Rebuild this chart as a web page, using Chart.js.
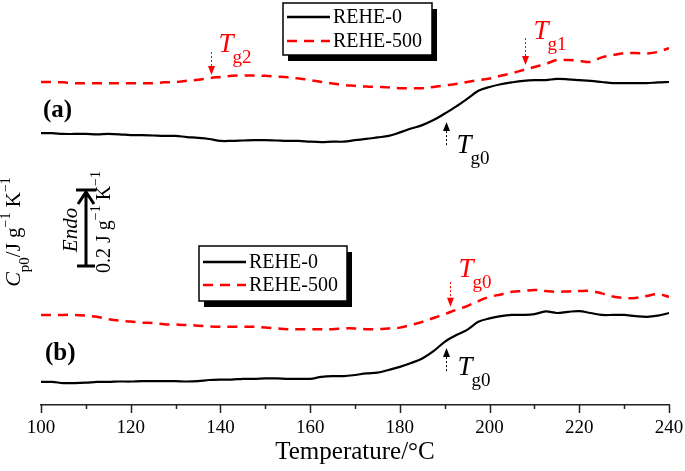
<!DOCTYPE html>
<html>
<head>
<meta charset="utf-8">
<script src="https://cdn.jsdelivr.net/npm/chart.js@4"></script>
<style>
    html, body { margin: 0; padding: 0; background: #fff; }
    #wrap { width: 685px; height: 471px; position: relative; }
</style>
</head>
<body>
<div id="wrap"><canvas id="cpChart"></canvas></div>
<script>
// Temperature grid (°C)
const temps = [100,102.5,105,107.5,110,112.5,115,117.5,120,122.5,125,127.5,130,132.5,135,137.5,140,142.5,145,147.5,
    150,152.5,155,157.5,160,162.5,165,167.5,170,172.5,175,177.5,180,182.5,185,187.5,190,192.5,195,197.5,
    200,202.5,205,207.5,210,212.5,215,217.5,220,222.5,225,227.5,230,232.5,235,237.5,240];

// Cp0 curves, J g-1 K-1 (offset)
const rehe0A = [0.706,0.706,0.704,0.704,0.704,0.703,0.704,0.703,0.701,0.701,0.700,0.699,0.699,0.696,0.694,0.691,0.686,0.686,0.687,0.688,
    0.688,0.687,0.686,0.686,0.684,0.683,0.684,0.684,0.688,0.691,0.695,0.699,0.708,0.718,0.727,0.740,0.757,0.775,0.795,0.816,
    0.826,0.833,0.838,0.842,0.844,0.844,0.847,0.846,0.844,0.842,0.839,0.836,0.836,0.836,0.836,0.838,0.839];
const rehe500A = [0.839,0.839,0.838,0.836,0.836,0.836,0.836,0.836,0.836,0.836,0.836,0.838,0.839,0.842,0.845,0.849,0.852,0.855,0.856,0.856,
    0.855,0.853,0.851,0.848,0.844,0.839,0.835,0.831,0.829,0.827,0.826,0.825,0.823,0.823,0.823,0.826,0.830,0.834,0.839,0.844,
    0.848,0.855,0.862,0.870,0.878,0.886,0.896,0.896,0.894,0.891,0.903,0.909,0.914,0.914,0.913,0.917,0.927];
const rehe0B = [0.060,0.060,0.057,0.057,0.058,0.060,0.060,0.061,0.061,0.062,0.062,0.062,0.062,0.061,0.062,0.065,0.066,0.066,0.068,0.068,
    0.069,0.069,0.068,0.068,0.068,0.073,0.075,0.075,0.078,0.082,0.084,0.091,0.099,0.109,0.121,0.140,0.164,0.181,0.195,0.216,
    0.225,0.231,0.234,0.234,0.236,0.243,0.239,0.242,0.244,0.239,0.234,0.234,0.234,0.231,0.229,0.232,0.239];
const rehe500B = [0.234,0.234,0.234,0.234,0.232,0.229,0.223,0.219,0.217,0.214,0.213,0.210,0.209,0.208,0.206,0.204,0.203,0.203,0.203,0.203,
    0.201,0.199,0.197,0.197,0.197,0.197,0.197,0.199,0.199,0.197,0.197,0.199,0.201,0.208,0.216,0.226,0.236,0.247,0.257,0.270,
    0.281,0.287,0.294,0.296,0.299,0.296,0.294,0.295,0.296,0.296,0.290,0.282,0.278,0.278,0.283,0.288,0.281];

const xTickLabels = [100,120,140,160,180,200,220,240];
const xMinorTicks = [110,130,150,170,190,210,230];

const seriesNames = ['REHE-0', 'REHE-500'];

const FONT = "'Liberation Serif', 'Times New Roman', serif";
const RED = '#ff0000';
const BLACK = '#000000';

// glass transition markers: temperature, arrow tip / tail (y units)
const markers = [
    { t: 137.8, tip: 0.857, tail: 0.917, color: RED, sub: 'g2', dx: 7, dy: 0 },
    { t: 207.9, tip: 0.883, tail: 0.953, color: RED, sub: 'g1', dx: 8, dy: 1 },
    { t: 190.3, tip: 0.735, tail: 0.675, color: BLACK, sub: 'g0', dx: 10, dy: 8 },
    { t: 191.2, tip: 0.255, tail: 0.319, color: RED, sub: 'g0', dx: 8, dy: -5 },
    { t: 190.3, tip: 0.148, tail: 0.088, color: BLACK, sub: 'g0', dx: 11, dy: 4 }
];

function toPoints(vals) {
    return temps.map((t, i) => ({ x: t, y: vals[i] }));
}

function lineSet(label, vals, color, dashed) {
    return {
        label: label,
        data: toPoints(vals),
        borderColor: color,
        borderWidth: dashed ? 2.5 : 2.2,
        borderDash: dashed ? [10, 7] : [],
        pointRadius: 0,
        tension: 0.35,
        fill: false
    };
}

// draws a run of text pieces, each with its own font and baseline shift
function drawRich(ctx, parts, x, y) {
    let cx = x;
    parts.forEach(p => {
        ctx.font = p.font;
        ctx.fillText(p.text, cx, y + (p.dy || 0));
        cx += ctx.measureText(p.text).width + (p.gap || 0);
    });
    return cx - x;
}

function richWidth(ctx, parts) {
    let w = 0;
    parts.forEach(p => {
        ctx.font = p.font;
        w += ctx.measureText(p.text).width + (p.gap || 0);
    });
    return w;
}

function drawRotated(ctx, parts, cy, baseX) {
    ctx.save();
    ctx.translate(baseX, cy);
    ctx.rotate(-Math.PI / 2);
    ctx.textBaseline = 'alphabetic';
    ctx.textAlign = 'left';
    const w = richWidth(ctx, parts);
    drawRich(ctx, parts, -w / 2, 0);
    ctx.restore();
}

function drawLegend(ctx, box, sets) {
    ctx.save();
    ctx.fillStyle = '#000';
    ctx.fillRect(box.x + 5, box.y + 6, box.w, box.h);
    ctx.fillStyle = '#fff';
    ctx.fillRect(box.x, box.y, box.w, box.h);
    ctx.strokeStyle = '#000';
    ctx.lineWidth = 1.5;
    ctx.strokeRect(box.x, box.y, box.w, box.h);
    sets.forEach((ds, i) => {
        const yy = box.y + box.rows[i];
        ctx.strokeStyle = ds.borderColor;
        ctx.lineWidth = 2.5;
        ctx.setLineDash(ds.borderDash);
        ctx.beginPath();
        ctx.moveTo(box.x + 4, yy);
        ctx.lineTo(box.x + 47, yy);
        ctx.stroke();
        ctx.setLineDash([]);
        ctx.fillStyle = '#000';
        ctx.font = '20px ' + FONT;
        ctx.textBaseline = 'middle';
        ctx.fillText(ds.label, box.x + 50, yy + 1);
    });
    ctx.restore();
}

const decorPlugin = {
    id: 'decor',
    afterDraw(chart) {
        const ctx = chart.ctx;
        const xs = chart.scales.x;
        const ys = chart.scales.y;
        const base = chart.chartArea.bottom;

        // tick marks
        ctx.save();
        ctx.strokeStyle = '#222';
        ctx.lineWidth = 1.5;
        xTickLabels.concat(xMinorTicks).forEach(v => {
            const px = Math.round(xs.getPixelForValue(v)) + 0.5;
            ctx.beginPath();
            ctx.moveTo(px, base);
            ctx.lineTo(px, base + (xTickLabels.includes(v) ? 8 : 4));
            ctx.stroke();
        });
        ctx.restore();

        // legends
        const ds = chart.data.datasets;
        drawLegend(ctx, { x: 283, y: 3, w: 149, h: 52, rows: [14, 38] }, [ds[0], ds[1]]);
        drawLegend(ctx, { x: 199, y: 246, w: 148, h: 55, rows: [16, 39] }, [ds[2], ds[3]]);

        // Tg markers
        markers.forEach(m => {
            const px = Math.round(xs.getPixelForValue(m.t)) + 0.5;
            const tip = ys.getPixelForValue(m.tip);
            const tail = ys.getPixelForValue(m.tail);
            const dir = tip > tail ? 1 : -1;
            const head = 9;
            ctx.save();
            ctx.strokeStyle = m.color;
            ctx.fillStyle = m.color;
            ctx.lineWidth = 1;
            ctx.setLineDash([2, 2]);
            ctx.beginPath();
            ctx.moveTo(px, tail);
            ctx.lineTo(px, tip - dir * head);
            ctx.stroke();
            ctx.setLineDash([]);
            ctx.beginPath();
            ctx.moveTo(px, tip);
            ctx.lineTo(px - 3.5, tip - dir * head);
            ctx.lineTo(px + 3.5, tip - dir * head);
            ctx.closePath();
            ctx.fill();
            ctx.textBaseline = 'alphabetic';
            drawRich(ctx, [
                { text: 'T', font: 'italic 27px ' + FONT, gap: -1 },
                { text: m.sub, font: '19px ' + FONT, dy: 11 }
            ], px + m.dx, tail + m.dy);
            ctx.restore();
        });

        // panel letters
        ctx.save();
        ctx.fillStyle = '#000';
        ctx.textBaseline = 'alphabetic';
        ctx.font = 'bold 25px ' + FONT;
        ctx.fillText('(a)', 43, 117);
        ctx.fillText('(b)', 45, 360);

        // y-axis title
        drawRotated(ctx, [
            { text: 'C', font: 'italic 22px ' + FONT },
            { text: 'p0', font: '15px ' + FONT, dy: 9 },
            { text: '/J g', font: '21px ' + FONT },
            { text: '\u22121', font: '14px ' + FONT, dy: -10 },
            { text: ' K', font: '21px ' + FONT },
            { text: '\u22121', font: '14px ' + FONT, dy: -10 }
        ], 232, 20);

        // scale bar
        ctx.strokeStyle = '#000';
        ctx.lineWidth = 3;
        ctx.beginPath();
        ctx.moveTo(86, 191); ctx.lineTo(86, 266);
        ctx.moveTo(76, 190); ctx.lineTo(96, 190);
        ctx.moveTo(77, 266); ctx.lineTo(95, 266);
        ctx.moveTo(78, 204); ctx.lineTo(86, 192); ctx.lineTo(94, 204);
        ctx.stroke();
        drawRotated(ctx, [{ text: 'Endo', font: 'italic 21px ' + FONT }], 230, 77);
        drawRotated(ctx, [
            { text: '0.2 J g', font: '20px ' + FONT },
            { text: '\u22121', font: '14px ' + FONT, dy: -10 },
            { text: ' K', font: '20px ' + FONT },
            { text: '\u22121', font: '14px ' + FONT, dy: -10 }
        ], 222, 110);
        ctx.restore();
    }
};

new Chart(document.getElementById('cpChart'), {
    type: 'line',
    data: {
        datasets: [
            lineSet(seriesNames[0], rehe0A, BLACK, false),
            lineSet(seriesNames[1], rehe500A, RED, true),
            lineSet(seriesNames[0], rehe0B, BLACK, false),
            lineSet(seriesNames[1], rehe500B, RED, true)
        ]
    },
    options: {
        responsive: true,
        maintainAspectRatio: false,
        animation: false,
        devicePixelRatio: 1,
        layout: { padding: { left: 41, right: 16, top: 20, bottom: 0 } },
        scales: {
            x: {
                type: 'linear',
                min: 100,
                max: 240,
                afterBuildTicks: scale => { scale.ticks = xTickLabels.map(v => ({ value: v })); },
                afterFit: scale => {
                    scale.height = 66;
                    scale.paddingLeft = 0;
                    scale.paddingRight = 0;
                },
                grid: { display: false, drawTicks: false },
                border: { display: true, color: '#222', width: 1.5 },
                ticks: { color: '#000', padding: 12, maxRotation: 0, font: { family: FONT, size: 19 } },
                title: {
                    display: true,
                    text: 'Temperature/°C',
                    color: '#000',
                    padding: { top: 0, bottom: 4 },
                    font: { family: FONT, size: 25 }
                }
            },
            y: {
                display: false,
                min: 0,
                max: 1
            }
        },
        plugins: {
            legend: { display: false },
            tooltip: { enabled: false }
        }
    },
    plugins: [decorPlugin]
});
</script>
</body>
</html>
